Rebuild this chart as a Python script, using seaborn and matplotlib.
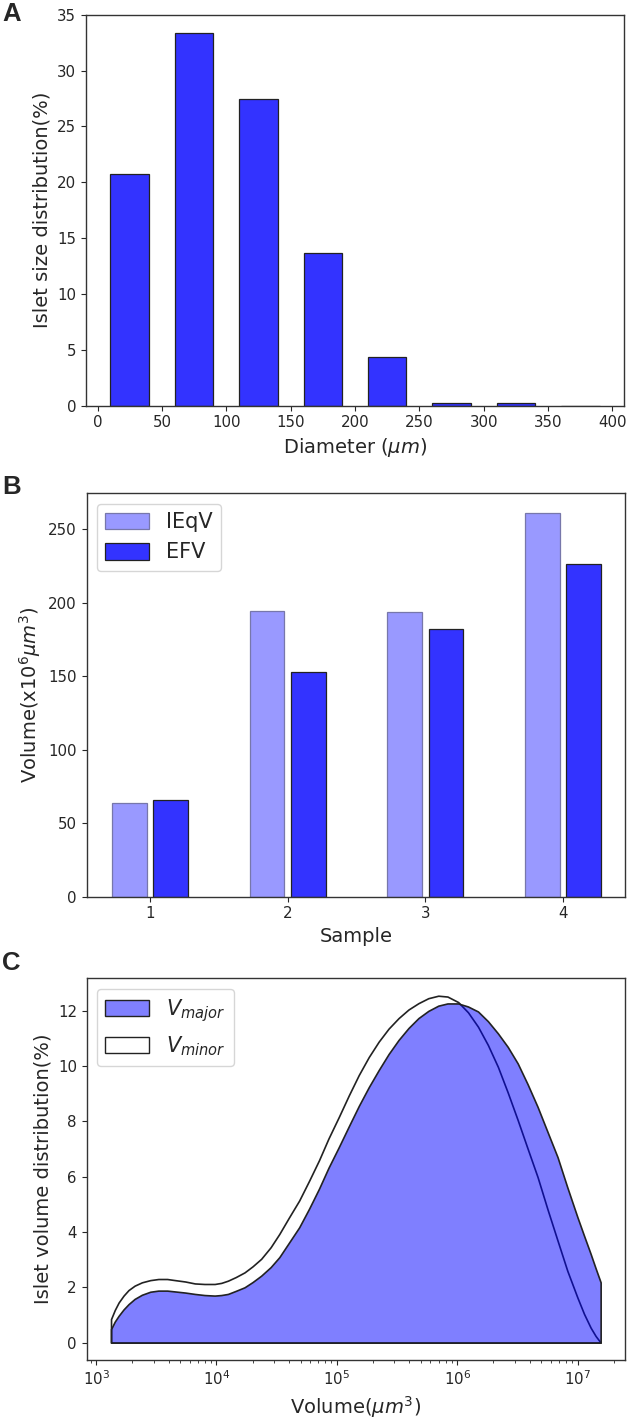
import numpy as np
import pandas as pd
import matplotlib
matplotlib.use("Agg")
import matplotlib.pyplot as plt
from matplotlib.patches import Patch
import seaborn as sns

sns.set_style("ticks")
plt.rcParams['font.family'] = ['DejaVu Sans']
plt.rcParams['xtick.labelsize'] = 10.8
plt.rcParams['ytick.labelsize'] = 10.8
plt.rcParams['axes.labelsize'] = 14
plt.rcParams['axes.edgecolor'] = '#333333'
plt.rcParams['mathtext.fontset'] = 'dejavusans'

### panel A: islet size distribution
diam_centers = [25, 75, 125, 175, 225, 275, 325, 375]
size_pct = [20.77, 33.33, 27.42, 13.64, 4.36, 0.24, 0.24, 0.0]

### panel B: volume per sample
samples = ["1", "2", "3", "4"]
ieqv = [64.0, 194.0, 193.3, 261.3]
efv = [65.8, 152.7, 182.2, 226.4]

### panel C: islet volume distribution
vol = [1330, 1429, 1538, 1690, 1858, 2089, 2399, 2818, 3289, 3890,
       4519, 5495, 6607, 7943, 9661, 10965, 12445, 14454, 17100, 19953,
       23496, 28184, 33266, 39811, 48641, 58884, 71121, 85114, 1.040e5,
       1.259e5, 1.521e5, 1.841e5, 2.228e5, 2.692e5, 3.258e5, 3.936e5,
       4.764e5, 5.754e5, 6.966e5, 8.30e5, 1.019e6, 1.230e6, 1.489e6,
       1.799e6, 2.178e6, 2.630e6, 3.184e6, 3.846e6, 4.656e6, 5.623e6,
       6.823e6, 8.222e6, 9.977e6, 1.132e7, 1.285e7, 1.413e7, 1.556e7]
v_major = [0.49, 0.76, 0.97, 1.20, 1.39, 1.58, 1.73, 1.84, 1.88, 1.88,
           1.85, 1.81, 1.76, 1.72, 1.70, 1.72, 1.76, 1.87, 2.00, 2.19,
           2.42, 2.73, 3.09, 3.60, 4.17, 4.85, 5.57, 6.32, 7.08,
           7.83, 8.56, 9.24, 9.86, 10.44, 10.95, 11.38,
           11.74, 12.00, 12.19, 12.27, 12.27, 12.16, 11.98,
           11.63, 11.19, 10.70, 10.10, 9.35, 8.53, 7.63,
           6.71, 5.62, 4.54, 3.87, 3.21, 2.69, 2.18]
v_minor = [0.85, 1.18, 1.45, 1.70, 1.90, 2.06, 2.18, 2.26, 2.30, 2.30,
           2.26, 2.21, 2.14, 2.12, 2.12, 2.16, 2.24, 2.37, 2.54, 2.76,
           3.03, 3.45, 3.93, 4.51, 5.14, 5.86, 6.60, 7.38, 8.17,
           8.95, 9.68, 10.33, 10.89, 11.36, 11.74, 12.05,
           12.28, 12.46, 12.55, 12.52, 12.32, 11.95, 11.43,
           10.77, 9.98, 9.05, 8.05, 7.02, 5.99, 4.83,
           3.69, 2.60, 1.63, 1.04, 0.54, 0.24, 0.0]

W, H = 634, 1427
fig = plt.figure(figsize=(W / 100, H / 100), dpi=100)

def box(left, top, right, bottom):
    return [left / W, 1 - bottom / H, (right - left) / W, (bottom - top) / H]

axA = fig.add_axes(box(86, 14.7, 624, 405.7))
axB = fig.add_axes(box(86.7, 493.3, 625, 896.7))
axC = fig.add_axes(box(86.7, 978.3, 625, 1360))

# A
sns.barplot(x=diam_centers, y=size_pct, native_scale=True, width=0.6,
            color='#3333ff', saturation=1, edgecolor='#222222',
            linewidth=0.9, ax=axA)
axA.set_xlim(-9, 409)
axA.set_ylim(0, 35)
axA.set_xticks(range(0, 401, 50))
axA.set_xlabel(r'Diameter ($\mu m$)')
axA.set_ylabel('Islet size distribution(%)')

# B
dfB = pd.DataFrame({
    'Sample': samples * 2,
    'Volume': ieqv + efv,
    'Type': ['IEqV'] * 4 + ['EFV'] * 4,
})
sns.barplot(data=dfB, x='Sample', y='Volume', hue='Type',
            palette={'IEqV': '#9999ff', 'EFV': '#3333ff'}, saturation=1,
            width=0.6, gap=0.16, legend=False, ax=axB)
for p in axB.containers[0]:
    p.set_edgecolor('#7777aa')
    p.set_linewidth(0.9)
for p in axB.containers[1]:
    p.set_edgecolor('#222222')
    p.set_linewidth(0.9)
axB.set_xlim(-0.46, 3.45)
axB.set_xlabel('Sample')
axB.set_ylabel(r'Volume(x10$^6\mu m^3$)')
axB.legend(handles=[Patch(facecolor='#9999ff', edgecolor='#7777aa', lw=0.9),
                    Patch(facecolor='#3333ff', edgecolor='#222222', lw=0.9)],
           labels=['IEqV', 'EFV'], loc='upper left', fontsize=15,
           handlelength=2.1, handleheight=0.85)

# C
axC.fill_between(vol, 0, v_minor, facecolor='white', edgecolor='#222222', lw=1.2)
axC.fill_between(vol, 0, v_major, facecolor=(0, 0, 1, 0.5),
                 edgecolor='#222222', lw=1.2)
axC.set_xscale('log')
axC.set_xlim(835, 2.48e7)
axC.set_ylim(-0.63, 13.18)
axC.set_xlabel(r'Volume($\mu m^3$)')
axC.set_ylabel('Islet volume distribution(%)')
axC.legend(handles=[Patch(facecolor=(0.5, 0.5, 1.0), edgecolor='#222222'),
                    Patch(facecolor='white', edgecolor='#222222')],
           labels=[r'$V_{major}$', r'$V_{minor}$'], loc='upper left',
           fontsize=15, handlelength=2.1, handleheight=0.8)

for ax in (axA, axB, axC):
    for s in ax.spines.values():
        s.set_linewidth(1.0)

for lbl, ytop in (('A', 2), ('B', 475), ('C', 951)):
    fig.text(2 / W, 1 - ytop / H, lbl, fontsize=18.5, fontweight='bold',
             family=['Liberation Sans', 'DejaVu Sans'], va='top', ha='left')

fig.savefig('out.png', dpi=100)
